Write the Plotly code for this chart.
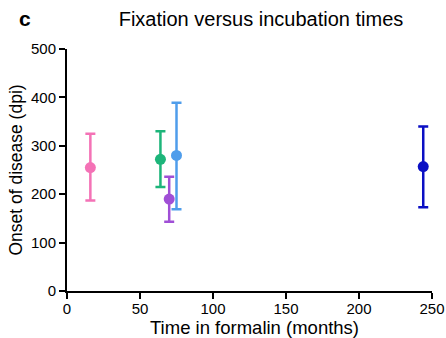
import plotly.graph_objects as go

months = [16, 64, 70, 75, 244]
onset = [255, 272, 190, 280, 257]
upper = [325, 330, 236, 389, 340]
lower = [187, 215, 143, 169, 173]
colors = ["#F472B6", "#1DB57A", "#A04FD6", "#4F9DEB", "#0B0FC4"]

fig = go.Figure()
for x, y, hi, lo, c in zip(months, onset, upper, lower, colors):
    fig.add_trace(go.Scatter(
        x=[x], y=[y], mode="markers",
        marker=dict(color=c, size=11),
        error_y=dict(type="data", symmetric=False, array=[hi - y], arrayminus=[y - lo],
                     color=c, thickness=2.5, width=5),
        showlegend=False, cliponaxis=False,
    ))

W, H = 446, 338
L, R, T, B = 67, 14, 49, 47
pw, ph = W - L - R, H - T - B

font = "Liberation Sans, Arial, sans-serif"
fig.update_layout(
    width=W, height=H,
    margin=dict(l=L, r=R, t=T, b=B, autoexpand=False),
    plot_bgcolor="white", paper_bgcolor="white",
    font=dict(family=font, color="black"),
    title=dict(text="Fixation versus incubation times", x=261 / W, xanchor="center",
               y=1 - 19 / H, yanchor="middle", font=dict(size=20)),
)
fig.add_annotation(text="<b>c</b>", xref="paper", yref="paper",
                   x=(25 - L) / pw, y=(H - B - 18) / ph,
                   xanchor="center", yanchor="middle", showarrow=False, font=dict(size=21))
fig.add_annotation(text="Time in formalin (months)", xref="paper", yref="paper",
                   x=(254 - L) / pw, y=(H - B - 327) / ph,
                   xanchor="center", yanchor="middle", showarrow=False, font=dict(size=18.5))
fig.update_xaxes(range=[0, 250], tickvals=[0, 50, 100, 150, 200, 250], automargin=False,
                 showline=True, linecolor="black", linewidth=2, showgrid=False, zeroline=False,
                 ticks="outside", ticklen=6, tickwidth=2, tickcolor="black",
                 ticklabelstandoff=-3, tickfont=dict(size=15))
fig.update_yaxes(range=[0, 500], tickvals=[0, 100, 200, 300, 400, 500], automargin=False,
                 showline=True, linecolor="black", linewidth=2, showgrid=False, zeroline=False,
                 ticks="outside", ticklen=6, tickwidth=2, tickcolor="black",
                 tickfont=dict(size=15),
                 title=dict(text="Onset of disease (dpi)", font=dict(size=17.5), standoff=4))
fig.write_html("out.html", config={"displayModeBar": False},
               post_script="document.body.style.margin='0';document.body.style.overflow='hidden';")
